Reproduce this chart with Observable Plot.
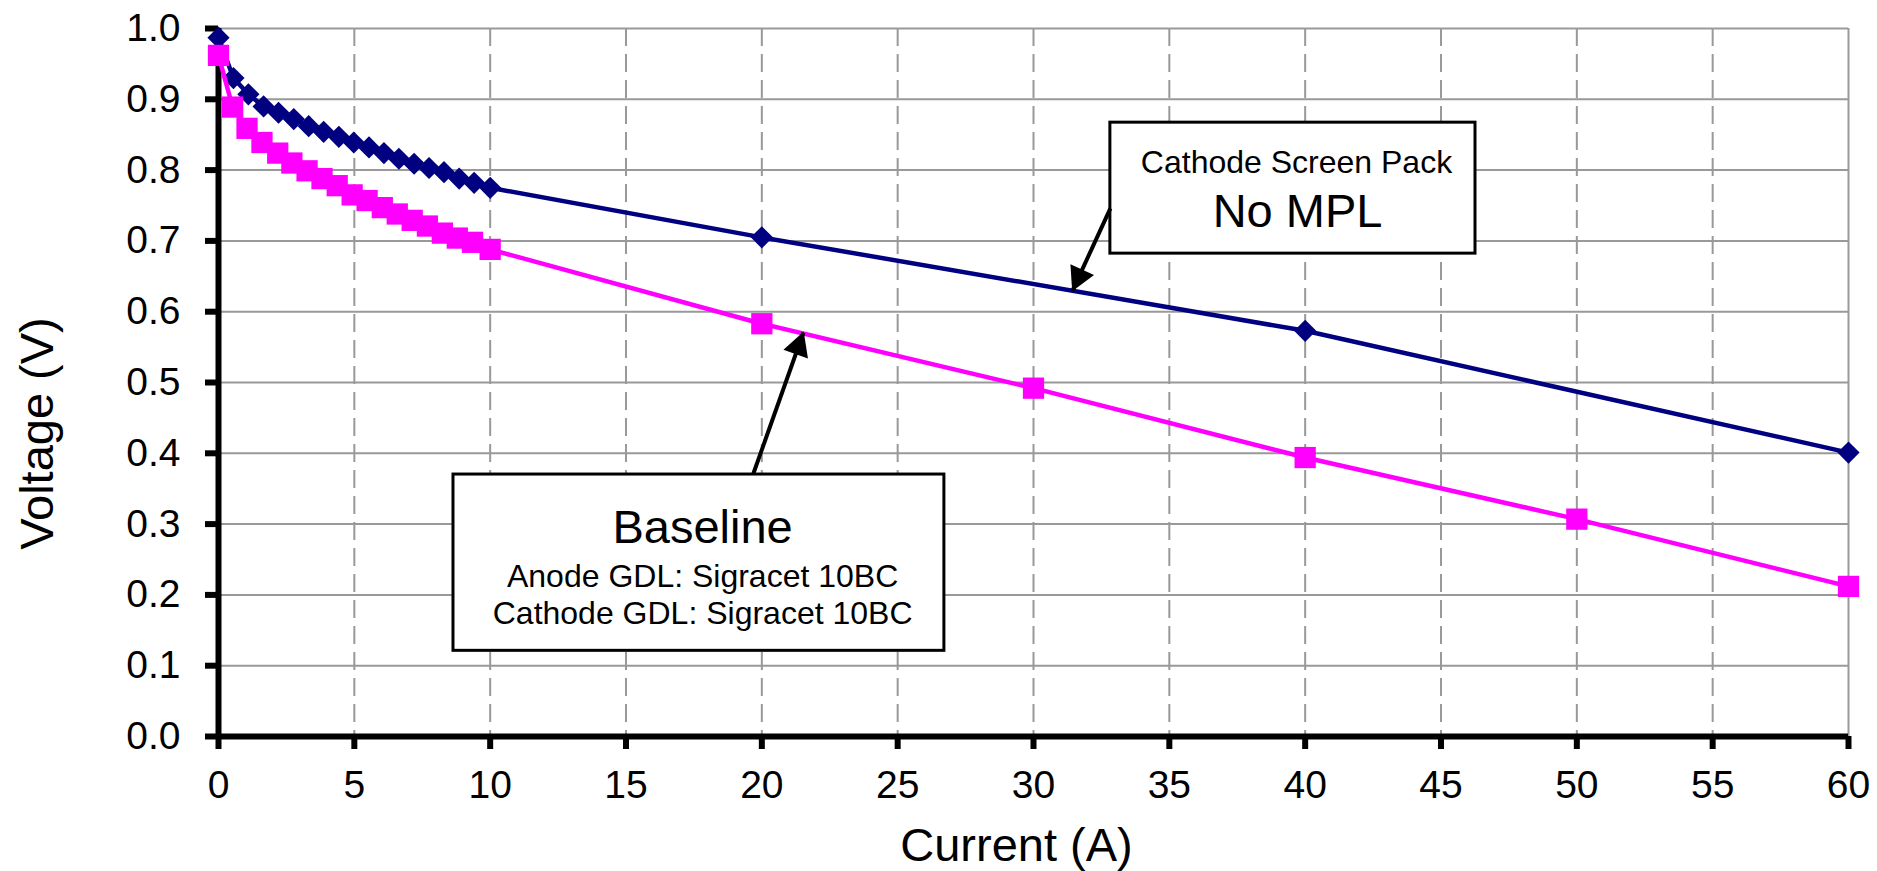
<!DOCTYPE html>
<html>
<head>
<meta charset="utf-8">
<script src="https://cdn.jsdelivr.net/npm/d3@7"></script>
<script src="https://cdn.jsdelivr.net/npm/@observablehq/plot@0.6"></script>
<style>
  html, body { margin: 0; padding: 0; background: #fff; }
</style>
</head>
<body>
<div id="chart"></div>
<script>
// ---- Data ----
// Series 1: Cathode Screen Pack, No MPL (navy diamonds)
const screenCurrent = [0, 0.55, 1.1, 1.66, 2.21, 2.77, 3.32, 3.87, 4.43, 4.98, 5.54, 6.09, 6.64, 7.2, 7.75, 8.3, 8.86, 9.41, 10, 20, 40, 60];
const screenVoltage = [0.987, 0.930, 0.907, 0.890, 0.881, 0.872, 0.862, 0.854, 0.847, 0.839, 0.832, 0.824, 0.816, 0.809, 0.803, 0.797, 0.788, 0.782, 0.775, 0.705, 0.573, 0.401];

// Series 2: Baseline (magenta squares)
const baseCurrent = [0, 0.52, 1.05, 1.6, 2.18, 2.7, 3.26, 3.81, 4.37, 4.92, 5.47, 6.03, 6.58, 7.13, 7.69, 8.24, 8.79, 9.35, 10, 20, 30, 40, 50, 60];
const baseVoltage = [0.962, 0.889, 0.859, 0.839, 0.824, 0.810, 0.799, 0.788, 0.778, 0.765, 0.757, 0.747, 0.738, 0.729, 0.721, 0.711, 0.704, 0.698, 0.688, 0.583, 0.492, 0.394, 0.307, 0.212];

// Axis ticks and titles
const xTicks = [0, 5, 10, 15, 20, 25, 30, 35, 40, 45, 50, 55, 60];
const yTicks = [0, 0.1, 0.2, 0.3, 0.4, 0.5, 0.6, 0.7, 0.8, 0.9, 1.0];
const xTitle = "Current (A)";
const yTitle = "Voltage (V)";

// Annotation texts
const screenLabelSmall = "Cathode Screen Pack";
const screenLabelBig = "No MPL";
const baseLabelBig = "Baseline";
const baseLabelLines = ["Anode GDL: Sigracet 10BC", "Cathode GDL: Sigracet 10BC"];

// Annotation placement (data units)
const screenBox = {x1: 32.83, x2: 46.27, y1: 0.682, y2: 0.867};
const baseBox = {x1: 8.65, x2: 26.72, y1: 0.121, y2: 0.370};
const screenArrow = {x1: 32.83, y1: 0.746, x2: 31.44, y2: 0.630};
const baseArrow = {x1: 19.69, y1: 0.3715, x2: 21.53, y2: 0.5706};

// ---- Build tables ----
const screen = screenCurrent.map((c, i) => ({current: c, voltage: screenVoltage[i]}));
const base = baseCurrent.map((c, i) => ({current: c, voltage: baseVoltage[i]}));

const navy = "#000080";
const magenta = "#FF00FF";
const grid = "#999999";

function filledArrowHead(color) {
  const m = d3.create("svg:marker")
    .attr("viewBox", "-24 -14 26 28")
    .attr("markerUnits", "userSpaceOnUse")
    .attr("markerWidth", 26)
    .attr("markerHeight", 28)
    .attr("refX", 0)
    .attr("refY", 0)
    .attr("orient", "auto")
    .attr("fill", "black")
    .attr("stroke", "none");
  m.append("path").attr("d", "M1,0L-23,-13L-23,13Z");
  return m.node();
}

const chart = Plot.plot({
  width: 1877,
  height: 871,
  marginLeft: 218,
  marginRight: 29,
  marginTop: 28,
  marginBottom: 135,
  style: {fontFamily: "'Liberation Sans', Arial, sans-serif", fontSize: "39px", color: "black", background: "white"},
  x: {domain: [0, 60]},
  y: {domain: [0, 1]},
  marks: [
    Plot.gridY(yTicks.filter(t => t > 0), {stroke: grid, strokeOpacity: 1, strokeWidth: 2}),
    Plot.gridX(xTicks.filter(t => t > 0 && t < 60), {stroke: grid, strokeOpacity: 1, strokeWidth: 2, strokeDasharray: "18,8"}),
    Plot.ruleX([60], {stroke: grid, strokeWidth: 2}),
    Plot.axisX(xTicks, {tickSize: 13, tickPadding: 21, strokeWidth: 6, stroke: "black", fontSize: 39, label: null, tickFormat: d => String(d)}),
    Plot.axisY(yTicks, {tickSize: 13, tickPadding: 25, strokeWidth: 6, stroke: "black", fontSize: 39, label: null, tickFormat: d3.format(".1f")}),
    Plot.ruleX([0], {stroke: "black", strokeWidth: 6}),
    Plot.ruleY([0], {stroke: "black", strokeWidth: 6}),
    Plot.text([xTitle], {frameAnchor: "bottom", dx: -17, dy: 124, lineAnchor: "bottom", textAnchor: "middle", fontSize: 47}),
    Plot.text([yTitle], {frameAnchor: "left", rotate: -90, dx: -166, dy: 51, lineAnchor: "bottom", textAnchor: "middle", fontSize: 47}),
    // Series lines and markers
    Plot.line(screen, {x: "current", y: "voltage", stroke: navy, strokeWidth: 4.5}),
    Plot.dot(screen, {x: "current", y: "voltage", symbol: "diamond2", r: 10, fill: navy, stroke: "none"}),
    Plot.line(base, {x: "current", y: "voltage", stroke: magenta, strokeWidth: 4.5}),
    Plot.dot(base, {x: "current", y: "voltage", symbol: "square", r: 12, fill: magenta, stroke: "none"}),
    // Annotation boxes
    Plot.rect([screenBox, baseBox], {x1: "x1", x2: "x2", y1: "y1", y2: "y2", fill: "white", stroke: "black", strokeWidth: 3}),
    Plot.text([screenLabelSmall], {x: 39.68, y: 0.796, lineAnchor: "bottom", textAnchor: "middle", fontSize: 32}),
    Plot.text([screenLabelBig], {x: 39.72, y: 0.719, lineAnchor: "bottom", textAnchor: "middle", fontSize: 47}),
    Plot.text([baseLabelBig], {x: 17.82, y: 0.2726, lineAnchor: "bottom", textAnchor: "middle", fontSize: 47}),
    Plot.text(baseLabelLines, {x: 17.82, y: (d, i) => [0.2105, 0.1596][i], lineAnchor: "bottom", textAnchor: "middle", fontSize: 32}),
    // Arrows
    Plot.link([screenArrow, baseArrow], {x1: "x1", y1: "y1", x2: "x2", y2: "y2", stroke: "black", strokeWidth: 4, markerEnd: filledArrowHead})
  ]
});

document.getElementById("chart").appendChild(chart);
</script>
</body>
</html>
